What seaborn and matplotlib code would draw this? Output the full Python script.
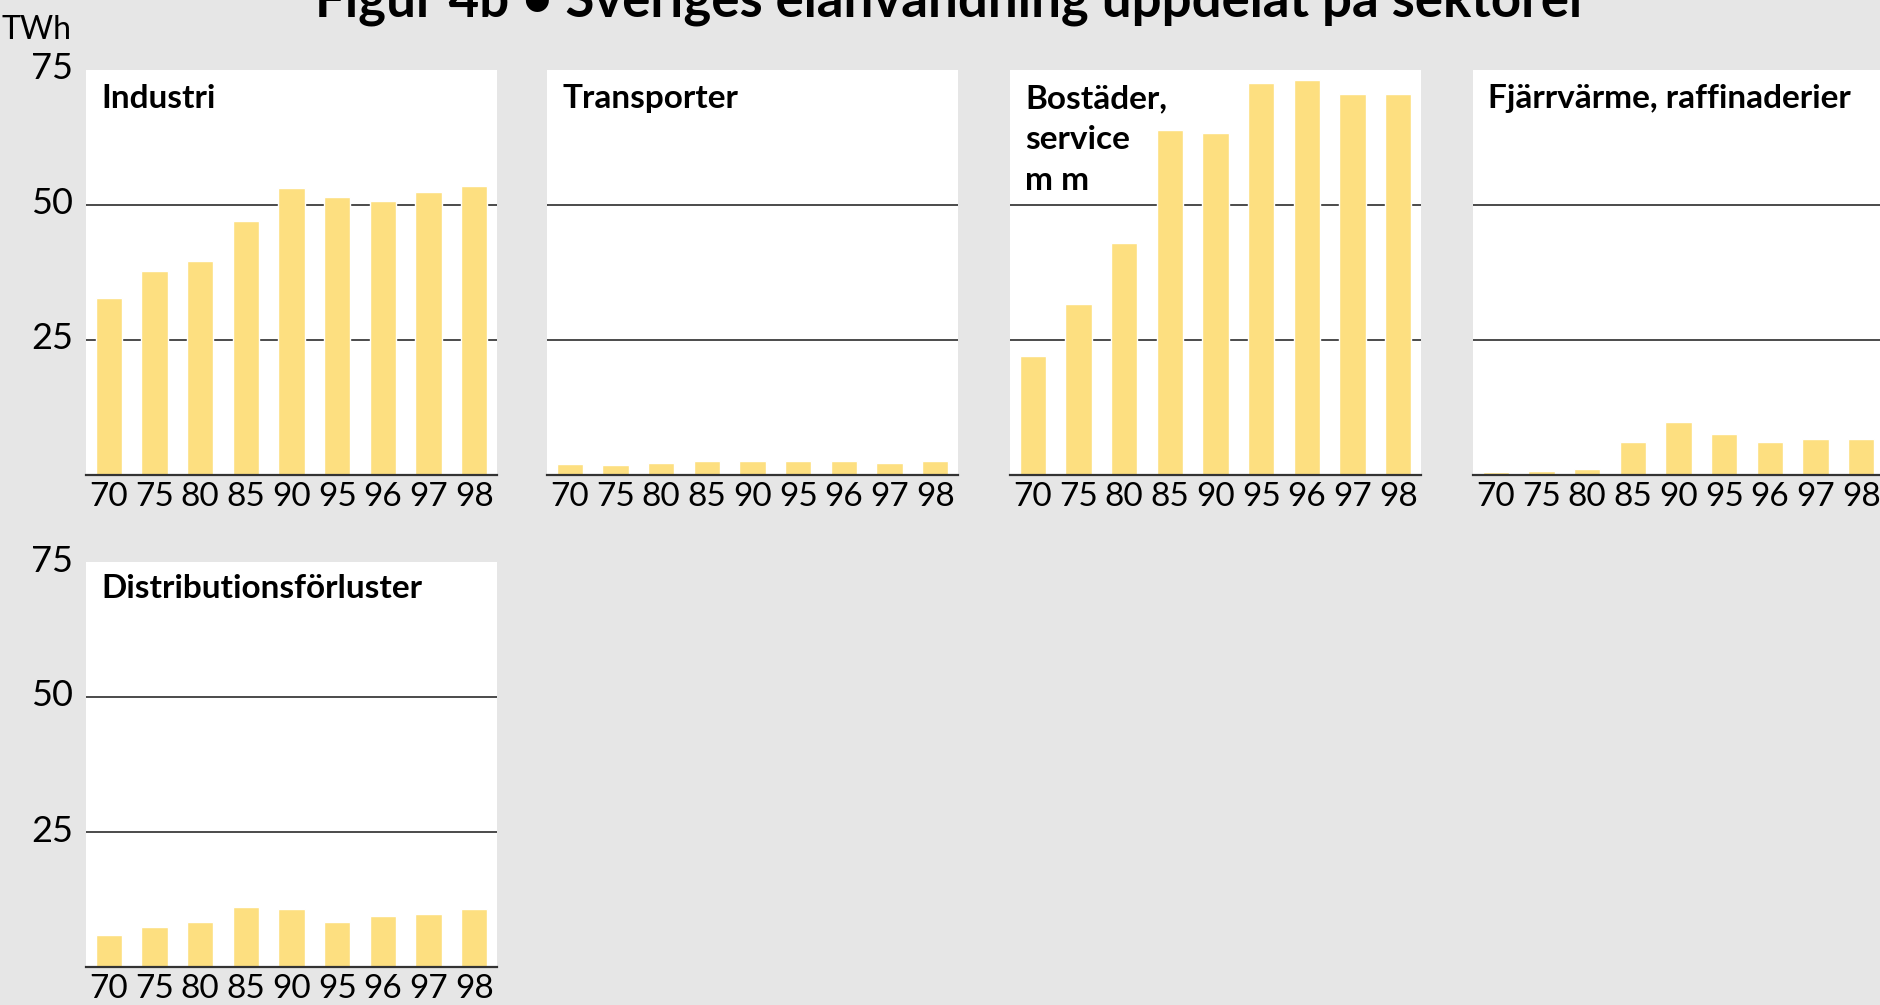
import matplotlib
matplotlib.use("Agg")
import matplotlib.pyplot as plt
import matplotlib.transforms as mtransforms
import seaborn as sns

# ── data (TWh) ───────────────────────────────────────────────────────────────
YEARS        = ["70", "75", "80", "85", "90", "95", "96", "97", "98"]
industri     = [32.7, 37.8, 39.6, 47.0, 53.1, 51.5, 50.7, 52.4, 53.5]
transporter  = [2.1, 1.9, 2.3, 2.5, 2.5, 2.5, 2.5, 2.3, 2.5]
bostader     = [22.0, 31.7, 43.0, 63.9, 63.4, 72.5, 73.1, 70.5, 70.5]
fjarrvarme   = [0.6, 0.8, 1.2, 6.2, 9.9, 7.5, 6.2, 6.7, 6.7]
distribution = [5.9, 7.4, 8.3, 11.1, 10.7, 8.3, 9.4, 9.8, 10.7]

PANELS = [
    ("Industri", industri),
    ("Transporter", transporter),
    ("Bostäder,\nservice\nm m", bostader),
    ("Fjärrvärme, raffinaderier", fjarrvarme),
    ("Distributionsförluster", distribution),
]
YTICKS = [25, 50, 75]

BG    = "#E6E6E6"
BAR   = "#FDDF80"
INK   = "#1A1A1A"

sns.set_theme(style="white")
plt.rcParams["font.family"] = ["Lato", "DejaVu Sans"]

W, H = 1880, 1005
fig = plt.figure(figsize=(W / 100, H / 100), dpi=100, facecolor=BG)

# panel boxes in pixels: (left, top of 75, baseline)
lefts = [86, 547, 1010, 1473, 86]
rows  = [(70, 475)] * 4 + [(562, 967)]
PW = 411

for i, (name, vals) in enumerate(PANELS):
    top, base = rows[i]
    ax = fig.add_axes([lefts[i] / W, 1 - base / H, PW / W, (base - top) / H])
    ax.set_facecolor("white")

    for g in [25, 50]:
        ax.axhline(g, color=INK, lw=1.1, zorder=0.5)

    sns.barplot(x=YEARS, y=vals, ax=ax, color=BAR, saturation=1, width=0.57, zorder=2)

    ax.set_ylim(0, 75)
    ax.set_xlim(-0.5, 8.5)
    ax.set_xlabel("")
    ax.set_ylabel("")
    for s in ["top", "left", "right"]:
        ax.spines[s].set_visible(False)
    ax.spines["bottom"].set_color("#333333")
    ax.spines["bottom"].set_linewidth(1.6)
    ax.spines["bottom"].set_zorder(3)

    ax.tick_params(axis="x", length=0, pad=5, labelsize=24, colors="black")
    ax.tick_params(axis="y", length=0, pad=9.5, labelsize=26, colors="black")
    ax.set_yticks(YTICKS)
    if lefts[i] == 86:
        ax.set_yticklabels([str(t) for t in YTICKS])
        shift = mtransforms.ScaledTranslation(0, 4 / 100, fig.dpi_scale_trans)
        for lab in ax.get_yticklabels():
            lab.set_transform(lab.get_transform() + shift)
    else:
        ax.set_yticklabels([])

    ax.annotate(name, xy=(0, 1), xycoords="axes fraction",
                xytext=(11, -9 - (1.4 if i < 4 else 0)), textcoords="offset points",
                ha="left", va="top", fontsize=24, fontweight="bold",
                linespacing=1.5, color="black", zorder=5)

fig.text(952 / W, 1 - 17 / H, "Figur 4b • Sveriges elanvändning uppdelat på sektorer",
         ha="center", va="baseline", fontsize=38, fontweight="bold", color="black")
fig.text(72 / W, 1 - 30 / H, "TWh", ha="right", va="center", fontsize=23,
         color="black")

fig.savefig("out.png", dpi=100, facecolor=BG)
